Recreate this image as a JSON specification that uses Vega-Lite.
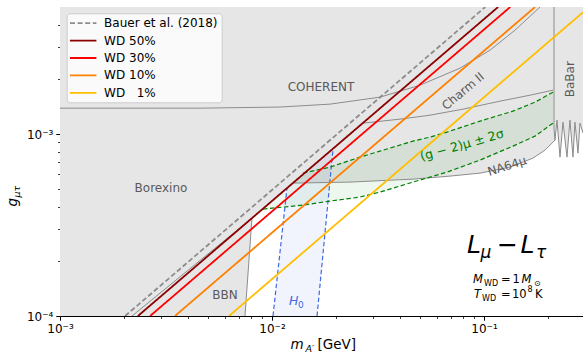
{
  "$schema": "https://vega.github.io/schema/vega-lite/v6.json",
  "width": 523,
  "height": 309,
  "autosize": "none",
  "padding": {"left": 60, "top": 7, "right": 0, "bottom": 36},
  "background": "white",
  "config": {"view": {"stroke": null}, "font": "DejaVu Sans"},
  "datasets": {
    "region": [
      {"m": 0.001, "g": 0.0001}, {"m": 0.007458, "g": 0.0001}, {"m": 0.008045, "g": 0.0003455},
      {"m": 0.012566, "g": 0.0005379}, {"m": 0.02333, "g": 0.0005448}, {"m": 0.04626, "g": 0.0005658},
      {"m": 0.06913, "g": 0.0005878}, {"m": 0.09575, "g": 0.0006103}, {"m": 0.1326, "g": 0.0006586},
      {"m": 0.1702, "g": 0.000738}, {"m": 0.194, "g": 0.0008167}, {"m": 0.2162, "g": 0.0009268},
      {"m": 0.221, "g": 0.001194}, {"m": 0.2283, "g": 0.0007474}, {"m": 0.2359, "g": 0.001164},
      {"m": 0.2463, "g": 0.0007474}, {"m": 0.2544, "g": 0.001194}, {"m": 0.2629, "g": 0.0007474},
      {"m": 0.2686, "g": 0.001164}, {"m": 0.2776, "g": 0.0007862}, {"m": 0.2836, "g": 0.001149},
      {"m": 0.2931, "g": 0.001013}
    ],
    "bounds": [
      {"name": "Borexino", "i": 0, "m": 0.002186, "g": 0.0001},
      {"name": "Borexino", "i": 1, "m": 0.008045, "g": 0.0003455},
      {"name": "Borexino", "i": 2, "m": 0.02686, "g": 0.001149},
      {"name": "BBN", "i": 0, "m": 0.007458, "g": 0.0001},
      {"name": "BBN", "i": 1, "m": 0.008045, "g": 0.0003455},
      {"name": "NA64", "i": 0, "m": 0.012566, "g": 0.0005379},
      {"name": "NA64", "i": 1, "m": 0.02333, "g": 0.0005448},
      {"name": "NA64", "i": 2, "m": 0.04626, "g": 0.0005658},
      {"name": "NA64", "i": 3, "m": 0.06913, "g": 0.0005878},
      {"name": "NA64", "i": 4, "m": 0.09575, "g": 0.0006103},
      {"name": "NA64", "i": 5, "m": 0.1326, "g": 0.0006586},
      {"name": "NA64", "i": 6, "m": 0.1702, "g": 0.000738},
      {"name": "NA64", "i": 7, "m": 0.194, "g": 0.0008167},
      {"name": "NA64", "i": 8, "m": 0.2162, "g": 0.0009268},
      {"name": "Charm", "i": 0, "m": 0.02686, "g": 0.001149},
      {"name": "Charm", "i": 1, "m": 0.04016, "g": 0.001209},
      {"name": "Charm", "i": 2, "m": 0.05563, "g": 0.001271},
      {"name": "Charm", "i": 3, "m": 0.07961, "g": 0.001372},
      {"name": "Charm", "i": 4, "m": 0.119, "g": 0.001518},
      {"name": "Charm", "i": 5, "m": 0.1648, "g": 0.001637},
      {"name": "Charm", "i": 6, "m": 0.2116, "g": 0.001745},
      {"name": "COHERENT", "i": 0, "m": 0.001, "g": 0.001389},
      {"name": "COHERENT", "i": 1, "m": 0.004575, "g": 0.001389},
      {"name": "COHERENT", "i": 2, "m": 0.01091, "g": 0.001409},
      {"name": "COHERENT", "i": 3, "m": 0.01877, "g": 0.001462},
      {"name": "COHERENT", "i": 4, "m": 0.03231, "g": 0.001597},
      {"name": "COHERENT", "i": 5, "m": 0.0499, "g": 0.001858},
      {"name": "COHERENT", "i": 6, "m": 0.07703, "g": 0.002305},
      {"name": "COHERENT", "i": 7, "m": 0.1067, "g": 0.002893},
      {"name": "COHERENT", "i": 8, "m": 0.14, "g": 0.003727},
      {"name": "COHERENT", "i": 9, "m": 0.1837, "g": 0.005},
      {"name": "BaBar", "i": 0, "m": 0.2139, "g": 0.005},
      {"name": "BaBar", "i": 1, "m": 0.2139, "g": 0.001079},
      {"name": "BaBar", "i": 2, "m": 0.2162, "g": 0.0009268},
      {"name": "BaBar", "i": 3, "m": 0.221, "g": 0.001194},
      {"name": "BaBar", "i": 4, "m": 0.2283, "g": 0.0007474},
      {"name": "BaBar", "i": 5, "m": 0.2359, "g": 0.001164},
      {"name": "BaBar", "i": 6, "m": 0.2463, "g": 0.0007474},
      {"name": "BaBar", "i": 7, "m": 0.2544, "g": 0.001194},
      {"name": "BaBar", "i": 8, "m": 0.2629, "g": 0.0007474},
      {"name": "BaBar", "i": 9, "m": 0.2686, "g": 0.001164},
      {"name": "BaBar", "i": 10, "m": 0.2776, "g": 0.0007862},
      {"name": "BaBar", "i": 11, "m": 0.2836, "g": 0.001149},
      {"name": "BaBar", "i": 12, "m": 0.2931, "g": 0.001013}
    ],
    "band": [
      {"m": 0.009068, "lo": 0.0003871, "hi": 0.0003871},
      {"m": 0.014, "lo": 0.0004072, "hi": 0.0006103},
      {"m": 0.01877, "lo": 0.0004283, "hi": 0.0006586},
      {"m": 0.02601, "lo": 0.0004506, "hi": 0.0007474},
      {"m": 0.03231, "lo": 0.0004801, "hi": 0.0008064},
      {"m": 0.04626, "lo": 0.0005448, "hi": 0.0009152},
      {"m": 0.05563, "lo": 0.0005804, "hi": 0.0009627},
      {"m": 0.0669, "lo": 0.0006182, "hi": 0.001026},
      {"m": 0.09575, "lo": 0.0007197, "hi": 0.001179},
      {"m": 0.137, "lo": 0.0008592, "hi": 0.001338},
      {"m": 0.174, "lo": 0.000975, "hi": 0.001499},
      {"m": 0.2116, "lo": 0.001149, "hi": 0.001701}
    ],
    "gm2": [
      {"name": "lo", "m": 0.009068, "g": 0.0003871}, {"name": "lo", "m": 0.014, "g": 0.0004072},
      {"name": "lo", "m": 0.01877, "g": 0.0004283}, {"name": "lo", "m": 0.02601, "g": 0.0004506},
      {"name": "lo", "m": 0.03231, "g": 0.0004801}, {"name": "lo", "m": 0.04626, "g": 0.0005448},
      {"name": "lo", "m": 0.05563, "g": 0.0005804}, {"name": "lo", "m": 0.0669, "g": 0.0006182},
      {"name": "lo", "m": 0.09575, "g": 0.0007197}, {"name": "lo", "m": 0.137, "g": 0.0008592},
      {"name": "lo", "m": 0.174, "g": 0.000975}, {"name": "lo", "m": 0.2116, "g": 0.001149},
      {"name": "hi", "m": 0.014, "g": 0.0006103}, {"name": "hi", "m": 0.01877, "g": 0.0006586},
      {"name": "hi", "m": 0.02601, "g": 0.0007474}, {"name": "hi", "m": 0.03231, "g": 0.0008064},
      {"name": "hi", "m": 0.04626, "g": 0.0009152}, {"name": "hi", "m": 0.05563, "g": 0.0009627},
      {"name": "hi", "m": 0.0669, "g": 0.001026}, {"name": "hi", "m": 0.09575, "g": 0.001179},
      {"name": "hi", "m": 0.137, "g": 0.001338}, {"name": "hi", "m": 0.174, "g": 0.001499},
      {"name": "hi", "m": 0.2116, "g": 0.001701}
    ],
    "h0band": [
      {"g": 0.0001, "mlo": 0.01011, "mhi": 0.01631},
      {"g": 0.000505, "mlo": 0.01177, "mhi": 0.01864},
      {"g": 0.0008271, "mlo": 0.0194, "mhi": 0.0194}
    ],
    "h0lines": [
      {"name": "left", "m": 0.01011, "g": 0.0001}, {"name": "left", "m": 0.01177, "g": 0.000505},
      {"name": "right", "m": 0.01631, "g": 0.0001}, {"name": "right", "m": 0.0194, "g": 0.0008271}
    ],
    "wd": [
      {"series": "Bauer et al. (2018)", "m": 0.002028, "g": 0.0001},
      {"series": "Bauer et al. (2018)", "m": 0.1014, "g": 0.005},
      {"series": "WD 50%", "m": 0.002331, "g": 0.0001},
      {"series": "WD 50%", "m": 0.1166, "g": 0.005},
      {"series": "WD 30%", "m": 0.00266, "g": 0.0001},
      {"series": "WD 30%", "m": 0.133, "g": 0.005},
      {"series": "WD 10%", "m": 0.003484, "g": 0.0001},
      {"series": "WD 10%", "m": 0.1742, "g": 0.005},
      {"series": "WD \u20071%", "m": 0.00627, "g": 0.0001},
      {"series": "WD \u20071%", "m": 0.2931, "g": 0.004675}
    ],
    "labels": [
      {"t": "COHERENT", "m": 0.01703, "g": 0.001812},
      {"t": "Borexino", "m": 0.002995, "g": 0.000505},
      {"t": "BBN", "m": 0.006004, "g": 0.0001304}
    ],
    "charm": [{"t": "Charm II", "m": 0.07961, "g": 0.001723}],
    "na64": [{"t": "NA64μ", "m": 0.1284, "g": 0.0006671}],
    "babar": [{"t": "BaBar", "m": 0.2544, "g": 0.002005}],
    "gm2label": [{"t": "(g − 2)μ ± 2σ", "m": 0.07874, "g": 0.00087}],
    "bigIt": [{"t": "L", "m": 0.08969, "g": 0.0002219}, {"t": "L", "m": 0.1604, "g": 0.0002219}],
    "bigRm": [{"t": "−", "m": 0.1291, "g": 0.0002219}],
    "bigSub": [{"t": "μ", "m": 0.1022, "g": 0.0002083}, {"t": "τ", "m": 0.1858, "g": 0.0002083}],
    "smIt": [{"t": "M", "m": 0.08873, "g": 0.0001519}, {"t": "M", "m": 0.1503, "g": 0.0001519}, {"t": "T", "m": 0.08969, "g": 0.0001256}],
    "smRm": [{"t": "=", "m": 0.1203, "g": 0.0001519}, {"t": "1", "m": 0.1363, "g": 0.0001519}, {"t": "=", "m": 0.1203, "g": 0.0001256}, {"t": "10", "m": 0.1355, "g": 0.0001256}, {"t": "K", "m": 0.1741, "g": 0.0001256}],
    "tiny": [{"t": "WD", "m": 0.1, "g": 0.0001462}, {"t": "⊙", "m": 0.1721, "g": 0.0001462}, {"t": "WD", "m": 0.09786, "g": 0.0001209}, {"t": "8", "m": 0.1604, "g": 0.0001355}],
    "h0It": [{"t": "H", "m": 0.01203, "g": 0.0001149}],
    "h0Sub": [{"t": "0", "m": 0.01327, "g": 0.0001107}]
  },
  "resolve": {"scale": {"x": "shared", "y": "shared"}, "axis": {"x": "independent", "y": "independent"}},
  "layer": [
    {
      "data": {"name": "region"},
      "mark": {"type": "area", "orient": "vertical", "color": "#e6e6e6", "opacity": 1, "interpolate": "linear", "clip": true},
      "encoding": {
        "x": {"field": "m", "type": "quantitative", "scale": {"type": "log", "domain": [0.001, 0.2931], "nice": false},
          "axis": {"orient": "bottom", "values": [0.001, 0.002, 0.003, 0.004, 0.005, 0.006, 0.007, 0.008, 0.009, 0.01, 0.02, 0.03, 0.04, 0.05, 0.06, 0.07, 0.08, 0.09, 0.1, 0.2],
            "labelExpr": "datum.value > 0.00099 && datum.value < 0.00101 ? '10⁻³' : (datum.value > 0.0099 && datum.value < 0.0101 ? '10⁻²' : (datum.value > 0.099 && datum.value < 0.101 ? '10⁻¹' : ''))",
            "tickSize": {"condition": {"test": "abs(log(datum.value)/LN10 - round(log(datum.value)/LN10)) < 0.001", "value": 4.2}, "value": 2.4},
            "tickWidth": {"condition": {"test": "abs(log(datum.value)/LN10 - round(log(datum.value)/LN10)) < 0.001", "value": 1}, "value": 0.8},
            "tickColor": "black", "domainColor": "black", "domainWidth": 1, "grid": false,
            "labelFont": "DejaVu Sans", "labelFontSize": 12, "labelColor": "black", "labelPadding": 3, "labelFlush": false, "labelOverlap": false, "labelBound": false,
            "title": "m", "titleFont": "DejaVu Sans", "titleFontSize": 13.5, "titleFontStyle": "italic", "titleFontWeight": "normal", "titleColor": "black",
            "titleX": 230, "titleY": 32, "titleAlign": "left", "titleBaseline": "alphabetic"}},
        "y": {"field": "g", "type": "quantitative", "scale": {"type": "log", "domain": [0.0001, 0.005], "nice": false},
          "axis": {"orient": "left", "values": [0.0001, 0.0002, 0.0003, 0.0004, 0.0005, 0.0006, 0.0007, 0.0008, 0.0009, 0.001, 0.002, 0.003, 0.004],
            "labelExpr": "datum.value > 0.000099 && datum.value < 0.000101 ? '10⁻⁴' : (datum.value > 0.00099 && datum.value < 0.00101 ? '10⁻³' : '')",
            "tickSize": {"condition": {"test": "abs(log(datum.value)/LN10 - round(log(datum.value)/LN10)) < 0.001", "value": 4.2}, "value": 2.4},
            "tickWidth": {"condition": {"test": "abs(log(datum.value)/LN10 - round(log(datum.value)/LN10)) < 0.001", "value": 1}, "value": 0.8},
            "tickColor": "black", "domainColor": "black", "domainWidth": 1, "grid": false,
            "labelFont": "DejaVu Sans", "labelFontSize": 12, "labelColor": "black", "labelPadding": 3, "labelOverlap": false, "labelBound": false, "labelFlush": false,
            "title": "g", "titleFont": "DejaVu Sans", "titleFontSize": 13.5, "titleFontStyle": "italic", "titleFontWeight": "normal", "titleColor": "black",
            "titleAngle": 270, "titleX": -44, "titleY": 199, "titleAlign": "left", "titleBaseline": "alphabetic"}},
        "y2": {"datum": 0.005}
      }
    },
    {
      "data": {"name": "h0band"},
      "mark": {"type": "area", "orient": "horizontal", "color": "#4169e1", "opacity": 0.07, "clip": true},
      "encoding": {
        "y": {"field": "g", "type": "quantitative", "scale": {"type": "log", "domain": [0.0001, 0.005], "nice": false}, "axis": null},
        "x": {"field": "mlo", "type": "quantitative", "scale": {"type": "log", "domain": [0.001, 0.2931], "nice": false},
          "axis": {"orient": "top", "domain": true, "domainColor": "black", "domainWidth": 1, "ticks": false, "labels": false, "grid": false, "title": null, "values": []}},
        "x2": {"field": "mhi"}
      }
    },
    {
      "data": {"name": "band"},
      "mark": {"type": "area", "orient": "vertical", "color": "green", "opacity": 0.065, "clip": true},
      "encoding": {
        "x": {"field": "m", "type": "quantitative", "scale": {"type": "log", "domain": [0.001, 0.2931], "nice": false},
          "axis": {"orient": "bottom", "domain": false, "ticks": false, "labels": false, "grid": false, "values": [],
            "title": "[GeV]", "titleFont": "DejaVu Sans", "titleFontSize": 13.5, "titleFontWeight": "normal", "titleColor": "black",
            "titleX": 257, "titleY": 32, "titleAlign": "left", "titleBaseline": "alphabetic"}},
        "y": {"field": "lo", "type": "quantitative", "scale": {"type": "log", "domain": [0.0001, 0.005], "nice": false}, "axis": null},
        "y2": {"field": "hi"}
      }
    },
    {
      "data": {"name": "bounds"},
      "mark": {"type": "line", "color": "#8c8c8c", "strokeWidth": 1, "clip": true},
      "encoding": {
        "x": {"field": "m", "type": "quantitative", "scale": {"type": "log", "domain": [0.001, 0.2931], "nice": false},
          "axis": {"orient": "bottom", "domain": false, "ticks": false, "labels": false, "grid": false, "values": [],
            "title": "A′", "titleFont": "DejaVu Sans", "titleFontSize": 9.5, "titleFontStyle": "italic", "titleFontWeight": "normal", "titleColor": "black",
            "titleX": 245, "titleY": 35, "titleAlign": "left", "titleBaseline": "alphabetic"}},
        "y": {"field": "g", "type": "quantitative", "scale": {"type": "log", "domain": [0.0001, 0.005], "nice": false},
          "axis": {"orient": "left", "domain": false, "ticks": false, "labels": false, "grid": false, "values": [],
            "title": "μτ", "titleFont": "DejaVu Sans", "titleFontSize": 9.5, "titleFontStyle": "italic", "titleFontWeight": "normal", "titleColor": "black",
            "titleAngle": 270, "titleX": -41, "titleY": 190, "titleAlign": "left", "titleBaseline": "alphabetic"}},
        "detail": {"field": "name"},
        "order": {"field": "i", "type": "quantitative"}
      }
    },
    {
      "data": {"name": "h0lines"},
      "mark": {"type": "line", "color": "#4169e1", "strokeWidth": 1.2, "strokeDash": [4.5, 2.5], "clip": true},
      "encoding": {
        "x": {"field": "m", "type": "quantitative", "scale": {"type": "log", "domain": [0.001, 0.2931], "nice": false}, "axis": null},
        "y": {"field": "g", "type": "quantitative", "scale": {"type": "log", "domain": [0.0001, 0.005], "nice": false}, "axis": null},
        "detail": {"field": "name"}
      }
    },
    {
      "data": {"name": "gm2"},
      "mark": {"type": "line", "color": "green", "strokeWidth": 1.2, "strokeDash": [4.5, 2.5], "clip": true},
      "encoding": {
        "x": {"field": "m", "type": "quantitative", "scale": {"type": "log", "domain": [0.001, 0.2931], "nice": false}, "axis": null},
        "y": {"field": "g", "type": "quantitative", "scale": {"type": "log", "domain": [0.0001, 0.005], "nice": false}, "axis": null},
        "detail": {"field": "name"}
      }
    },
    {
      "data": {"name": "wd"},
      "mark": {"type": "line", "strokeWidth": 1.8, "clip": true},
      "encoding": {
        "x": {"field": "m", "type": "quantitative", "scale": {"type": "log", "domain": [0.001, 0.2931], "nice": false}, "axis": null},
        "y": {"field": "g", "type": "quantitative", "scale": {"type": "log", "domain": [0.0001, 0.005], "nice": false}, "axis": null},
        "color": {"field": "series", "type": "nominal",
          "scale": {"domain": ["Bauer et al. (2018)", "WD 50%", "WD 30%", "WD 10%", "WD \u20071%"], "range": ["#8c8c8c", "#8b0000", "#ff0000", "#ff8000", "#ffbf00"]},
          "legend": {"orient": "none", "legendX": 6.7, "legendY": 6.3, "title": null, "symbolType": "M-1.2,0H3.6", "symbolSize": 121, "symbolStrokeWidth": 1.8,
            "labelFont": "DejaVu Sans", "labelFontSize": 12, "labelColor": "black", "labelOffset": 21, "rowPadding": 4.4, "padding": 3.4,
            "fillColor": "rgba(255,255,255,0.8)", "strokeColor": "#cccccc", "cornerRadius": 3}},
        "strokeDash": {"field": "series", "type": "nominal",
          "scale": {"domain": ["Bauer et al. (2018)", "WD 50%", "WD 30%", "WD 10%", "WD \u20071%"], "range": [[5, 2.6], [1, 0], [1, 0], [1, 0], [1, 0]]},
          "legend": {"orient": "none", "legendX": 6.7, "legendY": 6.3, "title": null, "symbolType": "M-1.2,0H3.6", "symbolSize": 121, "symbolStrokeWidth": 1.8,
            "labelFont": "DejaVu Sans", "labelFontSize": 12, "labelColor": "black", "labelOffset": 21, "rowPadding": 4.4, "padding": 3.4,
            "fillColor": "rgba(255,255,255,0.8)", "strokeColor": "#cccccc", "cornerRadius": 3}}
      }
    },
    {
      "data": {"name": "labels"},
      "mark": {"type": "text", "font": "DejaVu Sans", "fontSize": 12, "color": "#595959", "align": "center", "baseline": "middle"},
      "encoding": {
        "x": {"field": "m", "type": "quantitative", "scale": {"type": "log", "domain": [0.001, 0.2931], "nice": false}, "axis": null},
        "y": {"field": "g", "type": "quantitative", "scale": {"type": "log", "domain": [0.0001, 0.005], "nice": false}, "axis": null},
        "text": {"field": "t"}
      }
    },
    {
      "data": {"name": "charm"},
      "mark": {"type": "text", "font": "DejaVu Sans", "fontSize": 12, "color": "#595959", "align": "center", "baseline": "middle", "angle": 320},
      "encoding": {
        "x": {"field": "m", "type": "quantitative", "scale": {"type": "log", "domain": [0.001, 0.2931], "nice": false}, "axis": null},
        "y": {"field": "g", "type": "quantitative", "scale": {"type": "log", "domain": [0.0001, 0.005], "nice": false}, "axis": null},
        "text": {"field": "t"}
      }
    },
    {
      "data": {"name": "na64"},
      "mark": {"type": "text", "font": "DejaVu Sans", "fontSize": 12, "color": "#595959", "align": "center", "baseline": "middle", "angle": 342},
      "encoding": {
        "x": {"field": "m", "type": "quantitative", "scale": {"type": "log", "domain": [0.001, 0.2931], "nice": false}, "axis": null},
        "y": {"field": "g", "type": "quantitative", "scale": {"type": "log", "domain": [0.0001, 0.005], "nice": false}, "axis": null},
        "text": {"field": "t"}
      }
    },
    {
      "data": {"name": "babar"},
      "mark": {"type": "text", "font": "DejaVu Sans", "fontSize": 12, "color": "#595959", "align": "center", "baseline": "middle", "angle": 270},
      "encoding": {
        "x": {"field": "m", "type": "quantitative", "scale": {"type": "log", "domain": [0.001, 0.2931], "nice": false}, "axis": null},
        "y": {"field": "g", "type": "quantitative", "scale": {"type": "log", "domain": [0.0001, 0.005], "nice": false}, "axis": null},
        "text": {"field": "t"}
      }
    },
    {
      "data": {"name": "gm2label"},
      "mark": {"type": "text", "font": "DejaVu Sans", "fontSize": 12.5, "color": "green", "align": "center", "baseline": "middle", "angle": 344},
      "encoding": {
        "x": {"field": "m", "type": "quantitative", "scale": {"type": "log", "domain": [0.001, 0.2931], "nice": false}, "axis": null},
        "y": {"field": "g", "type": "quantitative", "scale": {"type": "log", "domain": [0.0001, 0.005], "nice": false}, "axis": null},
        "text": {"field": "t"}
      }
    },
    {
      "data": {"name": "bigIt"},
      "mark": {"type": "text", "font": "DejaVu Sans", "fontSize": 25, "fontStyle": "italic", "color": "black", "align": "center", "baseline": "alphabetic"},
      "encoding": {
        "x": {"field": "m", "type": "quantitative", "scale": {"type": "log", "domain": [0.001, 0.2931], "nice": false}, "axis": null},
        "y": {"field": "g", "type": "quantitative", "scale": {"type": "log", "domain": [0.0001, 0.005], "nice": false}, "axis": null},
        "text": {"field": "t"}
      }
    },
    {
      "data": {"name": "bigRm"},
      "mark": {"type": "text", "font": "DejaVu Sans", "fontSize": 25, "color": "black", "align": "center", "baseline": "alphabetic"},
      "encoding": {
        "x": {"field": "m", "type": "quantitative", "scale": {"type": "log", "domain": [0.001, 0.2931], "nice": false}, "axis": null},
        "y": {"field": "g", "type": "quantitative", "scale": {"type": "log", "domain": [0.0001, 0.005], "nice": false}, "axis": null},
        "text": {"field": "t"}
      }
    },
    {
      "data": {"name": "bigSub"},
      "mark": {"type": "text", "font": "DejaVu Sans", "fontSize": 17, "fontStyle": "italic", "color": "black", "align": "center", "baseline": "alphabetic"},
      "encoding": {
        "x": {"field": "m", "type": "quantitative", "scale": {"type": "log", "domain": [0.001, 0.2931], "nice": false}, "axis": null},
        "y": {"field": "g", "type": "quantitative", "scale": {"type": "log", "domain": [0.0001, 0.005], "nice": false}, "axis": null},
        "text": {"field": "t"}
      }
    },
    {
      "data": {"name": "smIt"},
      "mark": {"type": "text", "font": "DejaVu Sans", "fontSize": 11.5, "fontStyle": "italic", "color": "black", "align": "left", "baseline": "alphabetic"},
      "encoding": {
        "x": {"field": "m", "type": "quantitative", "scale": {"type": "log", "domain": [0.001, 0.2931], "nice": false}, "axis": null},
        "y": {"field": "g", "type": "quantitative", "scale": {"type": "log", "domain": [0.0001, 0.005], "nice": false}, "axis": null},
        "text": {"field": "t"}
      }
    },
    {
      "data": {"name": "smRm"},
      "mark": {"type": "text", "font": "DejaVu Sans", "fontSize": 11.5, "color": "black", "align": "left", "baseline": "alphabetic"},
      "encoding": {
        "x": {"field": "m", "type": "quantitative", "scale": {"type": "log", "domain": [0.001, 0.2931], "nice": false}, "axis": null},
        "y": {"field": "g", "type": "quantitative", "scale": {"type": "log", "domain": [0.0001, 0.005], "nice": false}, "axis": null},
        "text": {"field": "t"}
      }
    },
    {
      "data": {"name": "tiny"},
      "mark": {"type": "text", "font": "DejaVu Sans", "fontSize": 8, "color": "black", "align": "left", "baseline": "alphabetic"},
      "encoding": {
        "x": {"field": "m", "type": "quantitative", "scale": {"type": "log", "domain": [0.001, 0.2931], "nice": false}, "axis": null},
        "y": {"field": "g", "type": "quantitative", "scale": {"type": "log", "domain": [0.0001, 0.005], "nice": false}, "axis": null},
        "text": {"field": "t"}
      }
    },
    {
      "data": {"name": "h0It"},
      "mark": {"type": "text", "font": "DejaVu Sans", "fontSize": 12.5, "fontStyle": "italic", "color": "#4169e1", "align": "left", "baseline": "alphabetic"},
      "encoding": {
        "x": {"field": "m", "type": "quantitative", "scale": {"type": "log", "domain": [0.001, 0.2931], "nice": false}, "axis": null},
        "y": {"field": "g", "type": "quantitative", "scale": {"type": "log", "domain": [0.0001, 0.005], "nice": false}, "axis": null},
        "text": {"field": "t"}
      }
    },
    {
      "data": {"name": "h0Sub"},
      "mark": {"type": "text", "font": "DejaVu Sans", "fontSize": 9, "color": "#4169e1", "align": "left", "baseline": "alphabetic"},
      "encoding": {
        "x": {"field": "m", "type": "quantitative", "scale": {"type": "log", "domain": [0.001, 0.2931], "nice": false}, "axis": null},
        "y": {"field": "g", "type": "quantitative", "scale": {"type": "log", "domain": [0.0001, 0.005], "nice": false}, "axis": null},
        "text": {"field": "t"}
      }
    }
  ]
}
